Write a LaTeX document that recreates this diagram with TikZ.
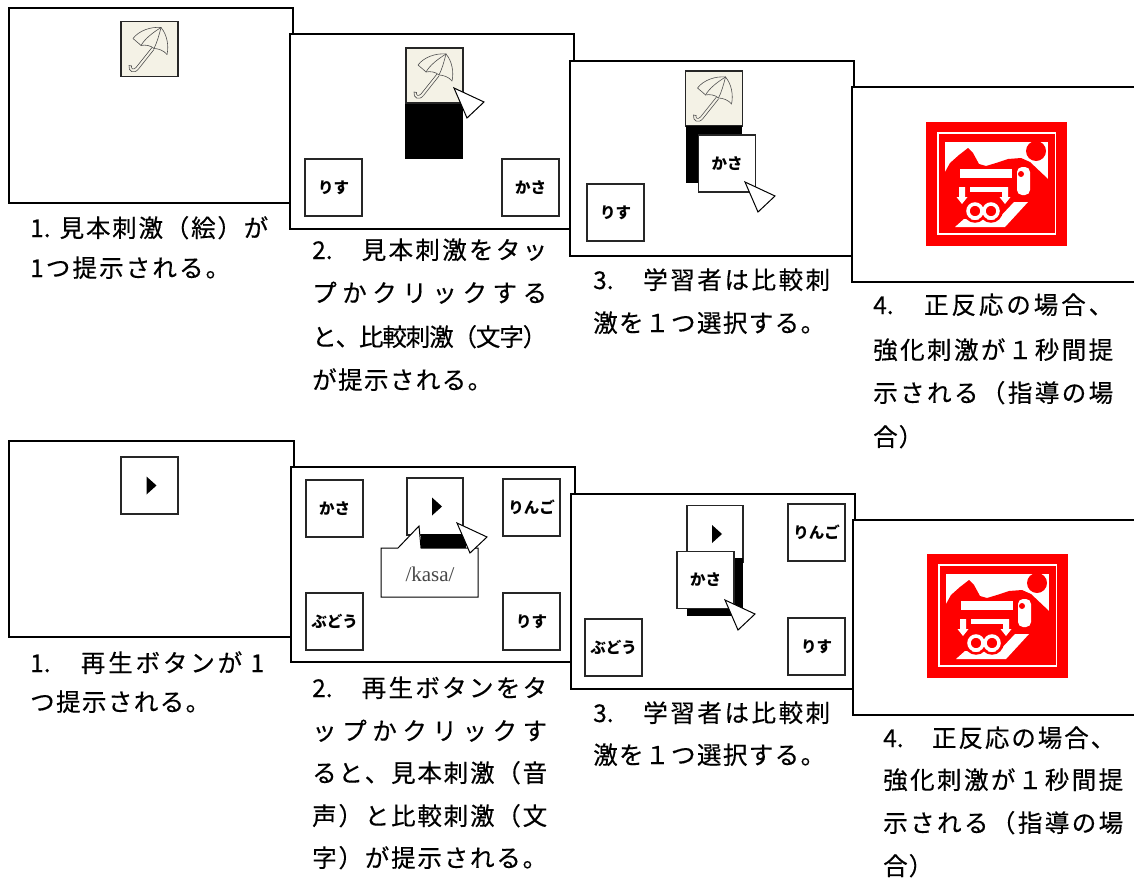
\documentclass[tikz,border=0pt]{standalone}
\usepackage{fontspec}
\setmainfont{Noto Sans CJK JP}
\newfontfamily\capfont{Noto Sans CJK JP}[FakeBold=0.35]
\newfontfamily\latinserif{Liberation Serif}
\makeatletter
% set a line of characters spread evenly over a given width
\newcommand\jline[2]{\hbox to #1{\def\jsep{}\@tfor\jc:=#2\do{\jsep\jc\def\jsep{\hskip 0pt plus 1fil minus 1fil}}}}
\makeatother
\definecolor{umbbg}{RGB}{244,242,230}
\definecolor{umbline}{RGB}{80,80,80}
\definecolor{rewardred}{RGB}{255,0,0}
\tikzset{
  panel/.style={draw=black, line width=1.4pt, fill=white, anchor=north west,
    inner sep=0pt, outer sep=0pt, minimum width=284pt, minimum height=195pt},
  card/.style={draw=black!85, line width=1.2pt, fill=white, inner sep=0pt,
    outer sep=0pt, minimum width=57pt, minimum height=57pt,
    font=\bfseries\fontsize{15.5}{15.5}\selectfont},
  umbcard/.style={card, fill=umbbg, minimum height=55pt},
  caption/.style={anchor=west, inner sep=0pt, font=\capfont\fontsize{24.5}{24.5}\selectfont,
    text height=21pt, text depth=3pt},
  hole/.style={fill=black},
  pointer/.style={fill=white, draw=black, line width=1pt, line join=miter},
  umbrella/.pic={
    \begin{scope}[draw=umbline, line width=0.6pt, line join=round, line cap=round]
      \draw (12,17) .. controls (18,9) and (30,5) .. (40,6);
      \draw (40,6) .. controls (46,13) and (48,24) .. (46,33);
      \draw (40,6) .. controls (32,11) and (24,17) .. (20,24);
      \draw (40,6) .. controls (38,14) and (36,21) .. (33,27);
      \draw (12,17) .. controls (14,19) and (17,21) .. (20,24)
            .. controls (24,23) and (30,24) .. (33,27)
            .. controls (37,27) and (43,29) .. (46,33);
      \draw (31,26) -- (15,46);
      \draw (33,28) -- (17.5,47.5);
      \draw (15,46) .. controls (12,49) and (10,47) .. (10.5,44.5);
      \draw (17.5,47.5) .. controls (13,53) and (7,50) .. (8,44) -- (10.5,44.5);
    \end{scope}
  },
  reward/.pic={
    \fill[rewardred] (0,0) rectangle (141,124);
    \draw[white, line width=1.3pt] (12,11) rectangle (129.5,112);
    \fill[white] (19,20) rectangle (122,58);
    \fill[rewardred] (19,59) -- (19,50) -- (24,41) -- (33,33) -- (42,26) -- (47,31)
      -- (53,42) -- (60,44) -- (70,41) -- (82,37) -- (95,36) -- (104,40)
      -- (122,57) -- (122,59) -- cycle;
    \fill[rewardred] (110,29) circle (10);
    \fill[white] (34,46.5) rectangle (86,56);
    \fill[white, rounded corners=5pt] (91,45) rectangle (104,73);
    \fill[rewardred] (95,52) circle (3);
    \fill[white] (44,65) rectangle (76,70);
    \fill[white] (33,65) rectangle (39,75) (30.5,75) -- (41.5,75) -- (36,82) -- cycle;
    \fill[white] (76,65) rectangle (82,75) (73.5,75) -- (84.5,75) -- (79,82) -- cycle;
    \fill[white] (29,105) -- (79,105) -- (102,80) -- (88,80) -- (72,97) -- (38,97) -- cycle;
    \draw[rewardred, line width=2.5pt] (49,89) circle (10.5) (65,89) circle (10.5);
    \draw[white, line width=3.5pt] (49,89) circle (7) (65,89) circle (7);
    \fill[rewardred] (49,89) circle (4.5) (65,89) circle (4.5);
  },
  playmark/.pic={\fill[black] (-3,-9) -- (7,0) -- (-3,9) -- cycle;},
  cursorarrow/.pic={\draw[pointer] (0,0) -- (30,14) -- (13,30) -- cycle;}
}
\begin{document}
\begin{tikzpicture}[x=1pt, y=-1pt]
\useasboundingbox (0,0) rectangle (1134,878);
\clip (0,0) rectangle (1134,878);
\fill[white] (0,0) rectangle (1134,878);

% ---------- upper sequence: picture sample ----------
\node[panel] (tp1) at (9,8) {};
\node[umbcard] (tu1) at (149.5,49) {};
\pic at (tu1.north west) {umbrella};

\node[panel] (tp2) at (290,34) {};
\fill[hole] (405,102) rectangle (463,159);
\node[umbcard] (tu2) at (434.5,75.5) {};
\pic at (tu2.north west) {umbrella};
\node[card] (t2risu) at (333.5,187.5) {りす};
\node[card] (t2kasa) at (530.5,187.5) {かさ};
\pic at (454,88) {cursorarrow};

\node[panel] (tp3) at (570,61) {};
\node[umbcard] (tu3) at (714,98.5) {};
\pic at (tu3.north west) {umbrella};
\fill[hole] (686,126) rectangle (742,183);
\node[card] (t3kasa) at (727,163.5) {かさ};
\node[card] (t3risu) at (615.5,212.5) {りす};
\pic at (745,182) {cursorarrow};

\node[panel, minimum width=300pt] (tp4) at (852,87) {};
\pic at (926,122) {reward};

% captions, upper sequence
\node[caption] (tc1a) at (30,228) {\jline{238pt}{{1.}{\ }見本刺激（絵）が}};
\node[caption] (tc1b) at (30,268) {\jline{200pt}{1つ提示される。}};
\node[caption] (tc2a) at (312,250) {\jline{235pt}{{2.}　見本刺激をタッ}};
\node[caption] (tc2b) at (312,293) {\jline{235pt}{プかクリックする}};
\node[caption] (tc2c) at (312,337) {\jline{235pt}{と、比較刺激（文字）}};
\node[caption] (tc2d) at (312,380) {\jline{180pt}{が提示される。}};
\node[caption] (tc3a) at (593,280) {\jline{237pt}{{3.}　学習者は比較刺}};
\node[caption] (tc3b) at (593,323) {\jline{232pt}{激を１つ選択する。}};
\node[caption] (tc4a) at (873,305) {\jline{240pt}{{4.}　正反応の場合、}};
\node[caption] (tc4b) at (873,350) {\jline{240pt}{強化刺激が１秒間提}};
\node[caption] (tc4c) at (873,393) {\jline{240pt}{示される（指導の場}};
\node[caption] (tc4d) at (873,437) {\jline{50pt}{合）}};

% ---------- lower sequence: spoken sample ----------
\node[panel, minimum width=285pt, minimum height=196pt] (bp1) at (9,441) {};
\node[card] (bplay1) at (149.5,485.5) {};
\pic at (bplay1.center) {playmark};

\node[panel] (bp2) at (291,467) {};
\node[card] (b2kasa) at (334.5,508.5) {かさ};
\node[card, minimum width=56pt] (bplay2) at (435,506.5) {};
\pic at (bplay2.center) {playmark};
\node[card] (b2ringo) at (531.5,507.5) {りんご};
\node[card] (b2budou) at (334.5,621.5) {ぶどう};
\node[card] (b2risu) at (531.5,621.5) {りす};
\draw[pointer] (381,548) -- (398,548) -- (419,526) -- (421,548) -- (478,548)
  -- (478,597) -- (381,597) -- cycle;
\fill[hole] (421,534) rectangle (466,548);
\node[font=\latinserif\fontsize{21}{21}\selectfont, text=black!72, inner sep=0pt]
  (b2voice) at (430,574) {/kasa/};
\pic at (457,523) {cursorarrow};

\node[panel] (bp3) at (571,494) {};
\node[card, minimum width=56pt] (bplay3) at (715,534) {};
\pic at (bplay3.center) {playmark};
\fill[hole] (687,558) rectangle (743,616);
\node[card] (b3kasa) at (705.5,580) {かさ};
\node[card] (b3ringo) at (816.5,532.5) {りんご};
\node[card] (b3budou) at (613.5,647.5) {ぶどう};
\node[card] (b3risu) at (816.5,646.5) {りす};
\pic at (725,600) {cursorarrow};

\node[panel, minimum width=300pt] (bp4) at (853,520) {};
\pic at (927,554) {reward};

% captions, lower sequence
\node[caption] (bc1a) at (30,663) {\jline{234pt}{{1.}　再生ボタンが{\ 1}}};
\node[caption] (bc1b) at (30,702) {\jline{180pt}{つ提示される。}};
\node[caption] (bc2a) at (312,688) {\jline{235pt}{{2.}　再生ボタンをタ}};
\node[caption] (bc2b) at (312,731) {\jline{235pt}{ップかクリックす}};
\node[caption] (bc2c) at (312,773) {\jline{235pt}{ると、見本刺激（音}};
\node[caption] (bc2d) at (312,816) {\jline{235pt}{声）と比較刺激（文}};
\node[caption] (bc2e) at (312,858) {\jline{235pt}{字）が提示される。}};
\node[caption] (bc3a) at (593,713) {\jline{237pt}{{3.}　学習者は比較刺}};
\node[caption] (bc3b) at (593,755) {\jline{232pt}{激を１つ選択する。}};
\node[caption] (bc4a) at (883,738) {\jline{232pt}{{4.}　正反応の場合、}};
\node[caption] (bc4b) at (883,780) {\jline{240pt}{強化刺激が１秒間提}};
\node[caption] (bc4c) at (883,823) {\jline{240pt}{示される（指導の場}};
\node[caption] (bc4d) at (883,866) {\jline{50pt}{合）}};
\end{tikzpicture}
\end{document}
